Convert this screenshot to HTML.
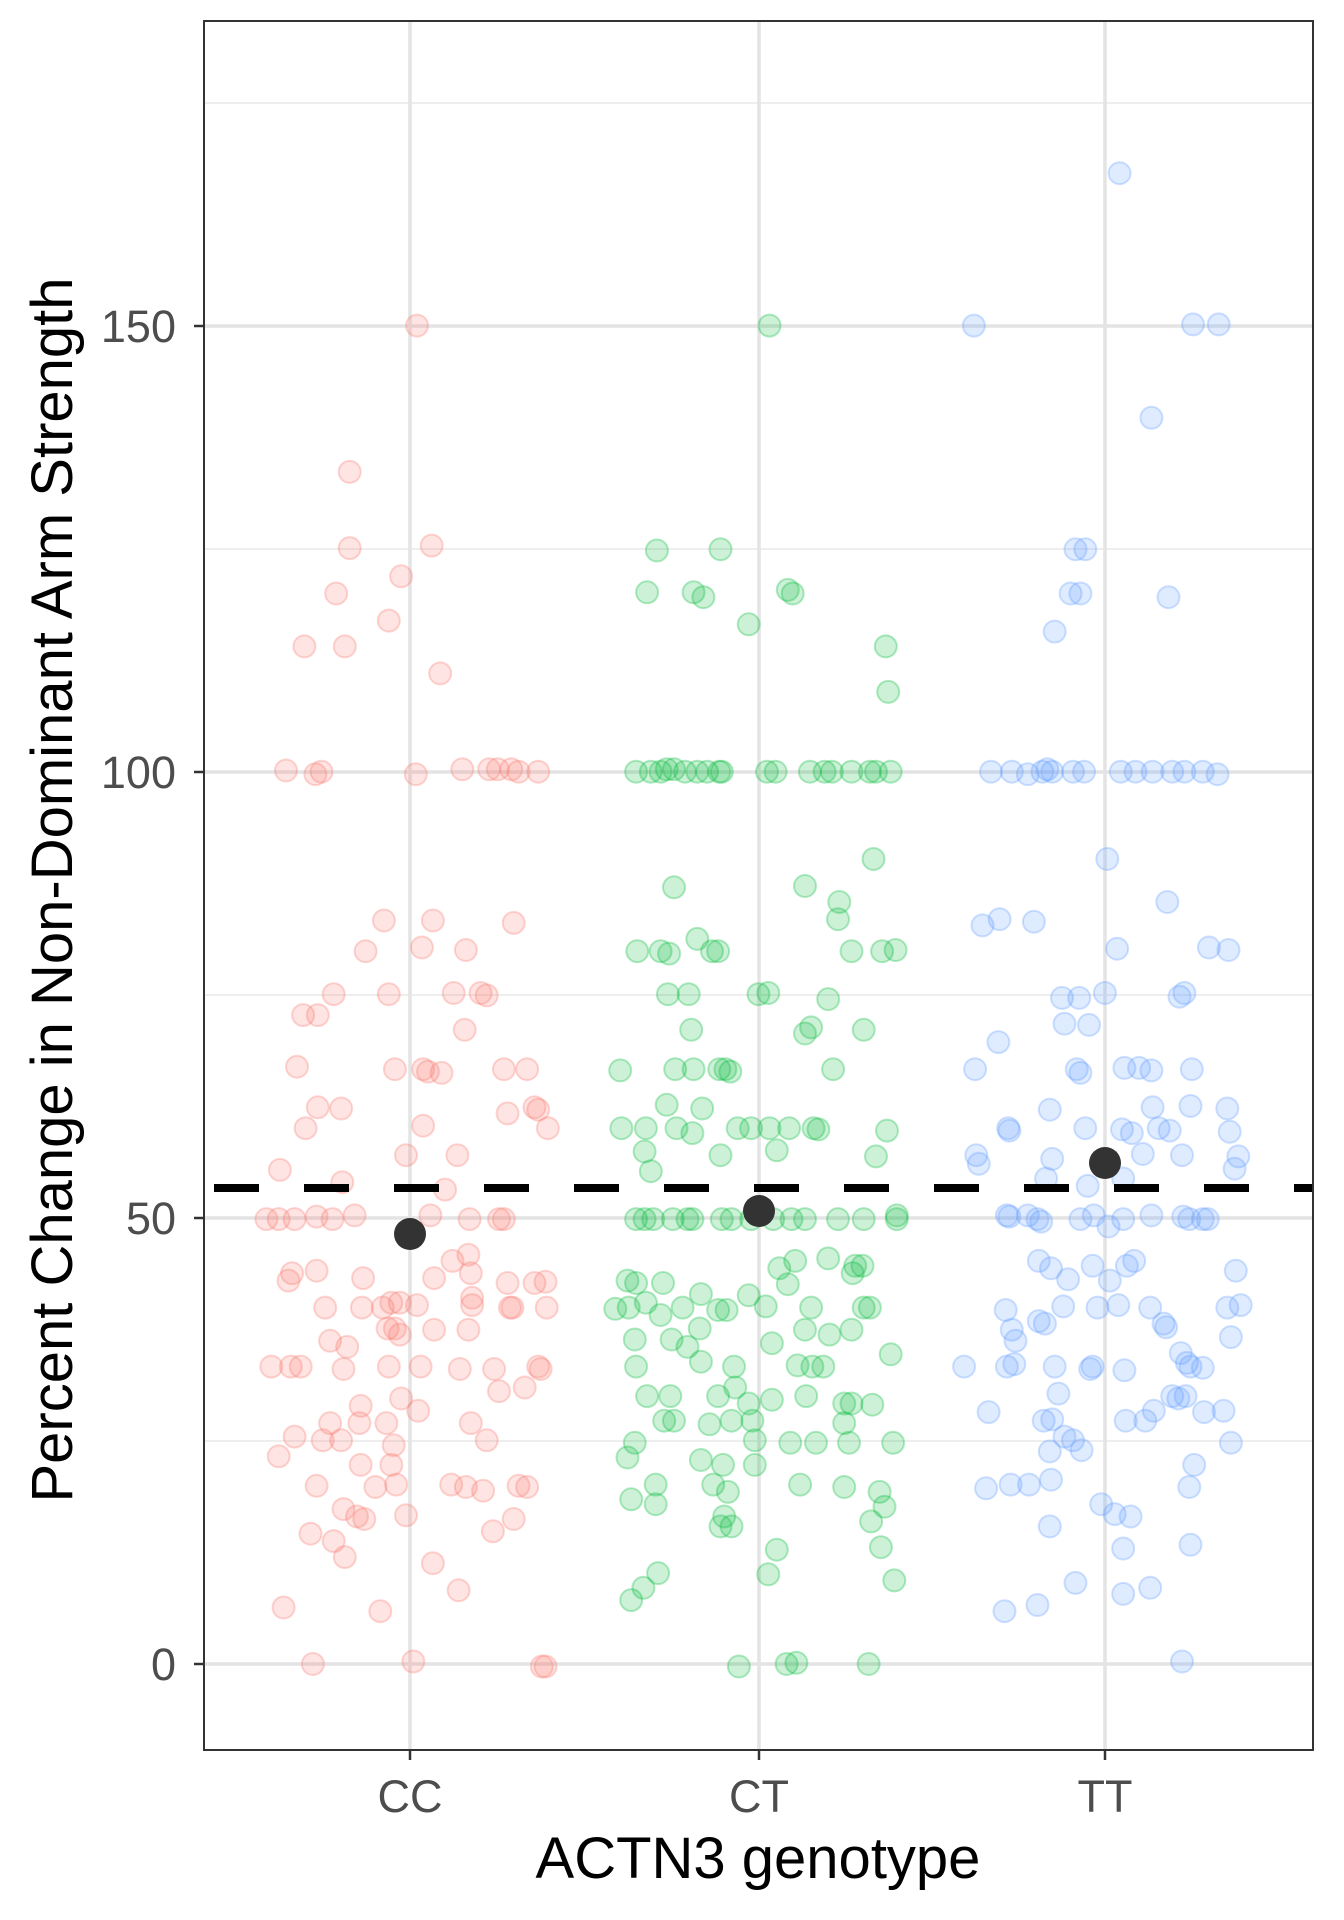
<!DOCTYPE html>
<html><head><meta charset="utf-8"><style>
html,body{margin:0;padding:0;background:#fff;width:1344px;height:1920px;overflow:hidden}
svg{display:block}
text{font-family:"Liberation Sans",sans-serif}
</style></head><body>
<svg id="s" width="1344" height="1920" viewBox="0 0 1344 1920" xmlns="http://www.w3.org/2000/svg">
<rect x="0" y="0" width="1344" height="1920" fill="#fff"/>
<g stroke="#ebebeb" stroke-width="1.8">
<line x1="204" x2="1313" y1="1441" y2="1441"/>
<line x1="204" x2="1313" y1="995" y2="995"/>
<line x1="204" x2="1313" y1="549" y2="549"/>
<line x1="204" x2="1313" y1="103" y2="103"/>
</g>
<g stroke="#e4e4e4" stroke-width="3.5">
<line x1="204" x2="1313" y1="1664" y2="1664"/>
<line x1="204" x2="1313" y1="1218" y2="1218"/>
<line x1="204" x2="1313" y1="772" y2="772"/>
<line x1="204" x2="1313" y1="326" y2="326"/>
<line x1="410" x2="410" y1="21" y2="1750"/>
<line x1="759" x2="759" y1="21" y2="1750"/>
<line x1="1105" x2="1105" y1="21" y2="1750"/>
</g>
<g id="pts"></g>
<line x1="204" x2="1313" y1="1188" y2="1188" stroke="#000" stroke-width="8" stroke-dasharray="45,45" stroke-dashoffset="-10"/>
<g fill="#333">
<circle cx="410" cy="1234" r="16"/>
<circle cx="759" cy="1211" r="16"/>
<circle cx="1105" cy="1163" r="16"/>
</g>
<rect x="204" y="21" width="1109" height="1729" fill="none" stroke="#333" stroke-width="2"/>
<g stroke="#333" stroke-width="2.5">
<line x1="194" x2="204" y1="1664" y2="1664"/>
<line x1="194" x2="204" y1="1218" y2="1218"/>
<line x1="194" x2="204" y1="772" y2="772"/>
<line x1="194" x2="204" y1="326" y2="326"/>
<line x1="410" x2="410" y1="1750" y2="1760"/>
<line x1="759" x2="759" y1="1750" y2="1760"/>
<line x1="1105" x2="1105" y1="1750" y2="1760"/>
</g>
<g fill="#4d4d4d" font-size="45" text-anchor="end">
<text x="176" y="1680">0</text>
<text x="176" y="1234">50</text>
<text x="176" y="788">100</text>
<text x="176" y="342">150</text>
</g>
<g fill="#4d4d4d" font-size="45" text-anchor="middle">
<text x="410" y="1812">CC</text>
<text x="759" y="1812">CT</text>
<text x="1105" y="1812">TT</text>
</g>
<text x="758" y="1878" font-size="58" text-anchor="middle" fill="#000">ACTN3 genotype</text>
<text transform="translate(72,890) rotate(-90)" font-size="58" text-anchor="middle" fill="#000">Percent Change in Non-Dominant Arm Strength</text>
</svg>
<script>
var CC=[[341,269],[286,388],[286,450],[353,448],[328,473],[275,487],[318,509],[249,530],[282,530],[360,552],[234,631],[258,634],[263,632],[340,634],[378,630],[400,630],[407,630],[418,630],[424,632],[440,632],[314,753],[299,778],[354,753],[420,755],[381,777],[345,775],[273,813],[318,813],[371,812],[393,812],[398,814],[248,830],[260,830],[380,842],[243,872],[323,874],[346,874],[350,876],[361,877],[412,874],[431,874],[260,905],[279,906],[346,920],[415,910],[437,905],[440,907],[448,922],[229,956],[250,922],[332,944],[374,944],[280,966],[364,972],[259,994],[272,996],[241,996],[228,996],[218,996],[290,993],[352,993],[384,996],[408,996],[412,996],[383,1025],[370,1030],[239,1040],[236,1046],[259,1038],[297,1044],[355,1044],[385,1040],[386,1060],[415,1048],[417,1068],[437,1048],[446,1047],[266,1068],[296,1068],[313,1068],[320,1064],[327,1064],[341,1066],[386,1066],[419,1068],[447,1068],[317,1085],[323,1085],[270,1095],[284,1100],[327,1090],[355,1086],[383,1086],[222,1116],[238,1116],[246,1116],[281,1118],[318,1116],[344,1116],[376,1118],[404,1118],[440,1116],[442,1118],[408,1136],[429,1133],[328,1142],[295,1148],[342,1152],[270,1162],[294,1162],[316,1162],[385,1162],[241,1173],[264,1176],[279,1176],[398,1176],[322,1180],[228,1189],[295,1196],[320,1196],[369,1212],[381,1214],[395,1217],[431,1214],[424,1213],[259,1213],[307,1214],[324,1212],[281,1232],[292,1238],[298,1240],[332,1237],[403,1250],[420,1240],[254,1252],[273,1258],[282,1271],[354,1276],[375,1298],[232,1312],[311,1315],[256,1358],[338,1356],[443,1360],[446,1360]];
var CT=[[629,269],[537,452],[589,451],[529,486],[567,486],[575,490],[644,484],[648,487],[612,512],[724,530],[726,567],[520,632],[532,632],[540,632],[545,630],[551,630],[560,632],[570,632],[578,632],[588,632],[590,632],[627,632],[634,632],[662,632],[674,632],[680,632],[696,632],[711,632],[716,632],[728,632],[551,726],[658,725],[714,703],[686,738],[685,752],[521,778],[540,778],[547,780],[570,768],[582,778],[587,778],[696,778],[721,778],[732,777],[546,813],[563,813],[620,813],[628,812],[677,817],[565,842],[658,845],[663,840],[706,842],[507,875],[552,874],[567,874],[588,874],[593,874],[597,876],[681,874],[545,903],[574,906],[566,926],[508,922],[528,922],[553,922],[603,922],[614,922],[629,922],[645,922],[665,922],[669,923],[589,944],[635,940],[716,945],[725,924],[527,941],[532,957],[520,996],[527,996],[534,996],[550,996],[562,996],[566,996],[590,996],[598,996],[614,996],[632,996],[647,996],[658,996],[685,996],[706,996],[733,993],[733,996],[637,1036],[650,1030],[677,1028],[699,1034],[705,1034],[513,1046],[520,1048],[542,1048],[573,1057],[612,1058],[644,1049],[697,1040],[503,1069],[514,1068],[528,1064],[540,1074],[558,1068],[587,1070],[594,1070],[626,1067],[663,1068],[706,1068],[711,1068],[519,1094],[572,1085],[549,1094],[562,1100],[631,1097],[658,1086],[678,1090],[696,1086],[520,1116],[573,1112],[600,1116],[652,1115],[664,1116],[673,1116],[728,1106],[548,1140],[587,1140],[601,1133],[612,1146],[659,1140],[631,1143],[690,1146],[696,1146],[713,1147],[529,1140],[551,1160],[580,1163],[598,1160],[615,1160],[690,1162],[519,1178],[543,1160],[617,1176],[646,1178],[667,1178],[694,1178],[730,1178],[513,1190],[573,1192],[591,1196],[617,1196],[536,1212],[583,1212],[595,1218],[654,1212],[690,1214],[719,1218],[516,1224],[536,1228],[723,1230],[592,1238],[712,1242],[589,1246],[598,1246],[720,1263],[635,1265],[731,1290],[628,1285],[538,1284],[526,1296],[516,1306],[604,1360],[643,1358],[651,1357],[710,1358]];
var TT=[[915,145],[796,269],[975,268],[996,268],[941,344],[879,451],[887,451],[875,487],[883,487],[955,490],[862,518],[810,632],[827,632],[840,634],[852,632],[856,630],[860,632],[877,632],[886,632],[916,632],[928,632],[942,632],[958,632],[968,632],[983,632],[995,634],[905,703],[954,738],[803,757],[817,752],[845,754],[988,775],[1004,777],[913,776],[816,852],[868,816],[882,816],[870,837],[890,838],[903,812],[968,812],[964,815],[797,874],[880,874],[883,877],[919,873],[931,873],[941,875],[974,874],[858,907],[824,922],[825,924],[798,944],[800,951],[860,947],[887,922],[917,923],[925,926],[942,905],[947,922],[1003,906],[1005,925],[1012,945],[1009,955],[956,924],[966,944],[973,904],[934,943],[918,963],[855,963],[889,969],[825,994],[823,993],[840,993],[848,996],[851,998],[883,996],[894,993],[918,996],[941,993],[967,994],[972,996],[983,996],[987,996],[906,1002],[927,1030],[849,1030],[859,1036],[893,1034],[921,1034],[907,1046],[873,1045],[1010,1038],[869,1067],[897,1068],[914,1066],[940,1068],[1003,1068],[1014,1066],[822,1070],[827,1086],[849,1079],[854,1081],[951,1081],[953,1084],[965,1105],[970,1113],[973,1116],[983,1117],[1006,1092],[788,1116],[823,1116],[829,1114],[862,1116],[893,1116],[891,1118],[919,1119],[830,1095],[865,1138],[808,1153],[860,1159],[870,1173],[920,1160],[936,1160],[943,1152],[958,1140],[963,1142],[969,1140],[984,1153],[1000,1152],[858,1185],[877,1176],[884,1184],[853,1160],[806,1215],[826,1212],[841,1212],[859,1208],[972,1214],[976,1196],[1006,1178],[900,1228],[911,1236],[924,1238],[858,1246],[918,1264],[973,1261],[879,1292],[918,1301],[940,1296],[821,1315],[848,1310],[966,1356]];
var g=document.getElementById('pts'),ns="http://www.w3.org/2000/svg";
function add(arr,col){arr.forEach(function(p){var c=document.createElementNS(ns,'circle');
c.setAttribute('cx',(204+(p[0]-167)*1.224).toFixed(1));c.setAttribute('cy',(1664+(p[1]-1358)*1.229).toFixed(1));
c.setAttribute('r','11');c.setAttribute('fill',col);c.setAttribute('fill-opacity','0.2');c.setAttribute('stroke',col);c.setAttribute('stroke-opacity','0.3');c.setAttribute('stroke-width','2');g.appendChild(c);});}
add(CC,'#F8766D');add(CT,'#00BA38');add(TT,'#619CFF');
</script>
</body></html>
